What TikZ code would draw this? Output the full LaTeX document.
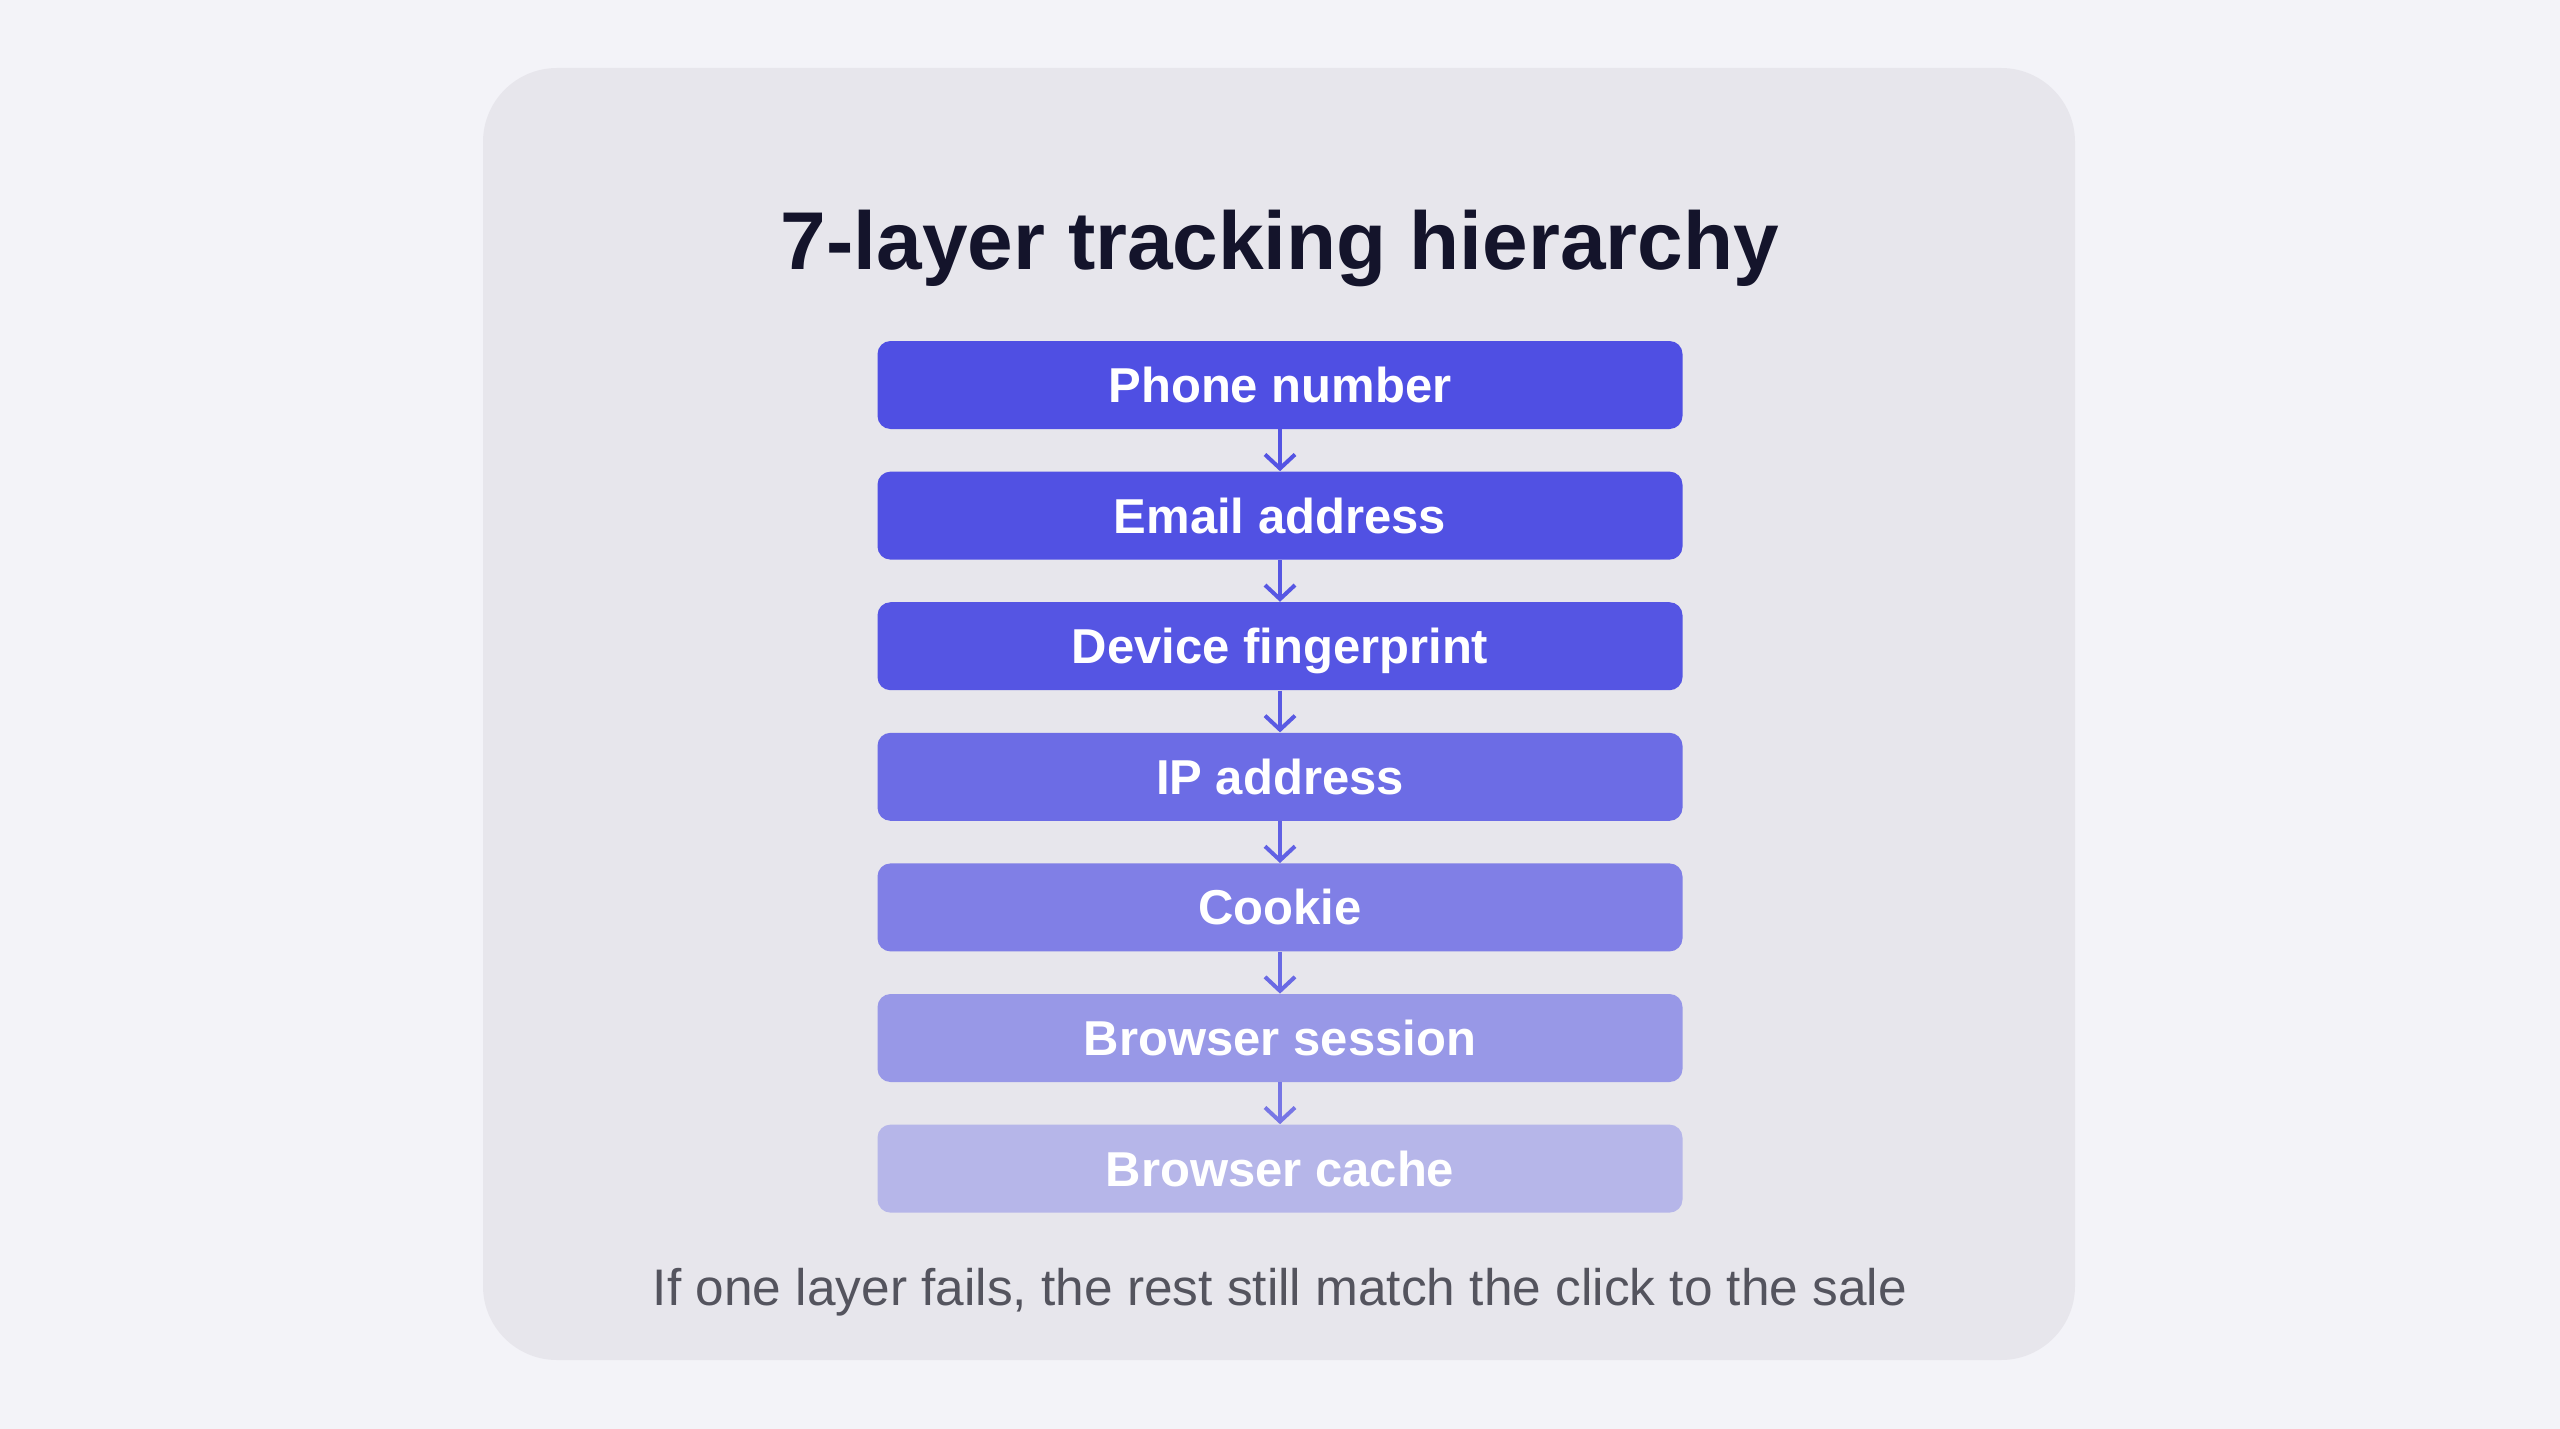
\documentclass[tikz,border=0pt]{standalone}
\usepackage{fontspec}
\setmainfont{Liberation Sans}
\usepackage{xcolor}
\definecolor{backdrop}{rgb}{0.953, 0.953, 0.973}
\definecolor{panel}{rgb}{0.906, 0.902, 0.925}
\definecolor{tier}{rgb}{0.31, 0.31, 0.89}
\definecolor{heading}{rgb}{0.08, 0.08, 0.17}
\definecolor{caption}{rgb}{0.33, 0.33, 0.37}
\usetikzlibrary{arrows.meta}
\usetikzlibrary{positioning}

\tikzset{
	layer/.style = {rectangle, rounded corners = 6.5pt, minimum width = 402.5pt, minimum height = 44pt,
		inner sep = 0pt, text = white, font = \fontsize{24.5}{29}\selectfont\bfseries,
		text height = 17.5pt, text depth = 0pt},
	link/.style = {line width = 2pt, -{Straight Barb[length = 7pt, width = 15pt]}}
}

\begin{document}
\begin{tikzpicture}[x = 0.5pt, y = -0.5pt, node distance = 20.9pt]

	% canvas and card
	\fill [backdrop] 	(0,0) rectangle (2560,1429);
	\fill [panel, rounded corners = 37pt] 	(483,68) rectangle (2075,1360);

	\node (title) [anchor = base, text = heading] at (1280,269)
					{\fontsize{41}{49}\selectfont\bfseries 7-layer tracking hierarchy};

	% the seven layers
	\node (phone) [layer, fill = tier] at (1280,385) {Phone number};
	\node (email) [layer, fill = tier!99!panel, below = of phone] {Email address};
	\node (device) [layer, fill = tier!96!panel, below = of email] {Device fingerprint};
	\node (ip) [layer, fill = tier!81!panel, below = of device] {IP address};
	\node (cookie) [layer, fill = tier!68!panel, below = of ip] {Cookie};
	\node (session) [layer, fill = tier!52!panel, below = of cookie] {Browser session};
	\node (cache) [layer, fill = tier!32!panel, below = of session] {Browser cache};

	\draw [link, tier!97!panel] 	(phone) -- (email);
	\draw [link, tier!95!panel] 	(email) -- (device);
	\draw [link, tier!93!panel] 	(device) -- (ip);
	\draw [link, tier!88!panel] 	(ip) -- (cookie);
	\draw [link, tier!82!panel] 	(cookie) -- (session);
	\draw [link, tier!74!panel] 	(session) -- (cache);

	\node (note) [anchor = base, text = caption] at (1280,1305)
					{\fontsize{25.7}{31}\selectfont If one layer fails, the rest still match the click to the sale};

\end{tikzpicture}
\end{document}
